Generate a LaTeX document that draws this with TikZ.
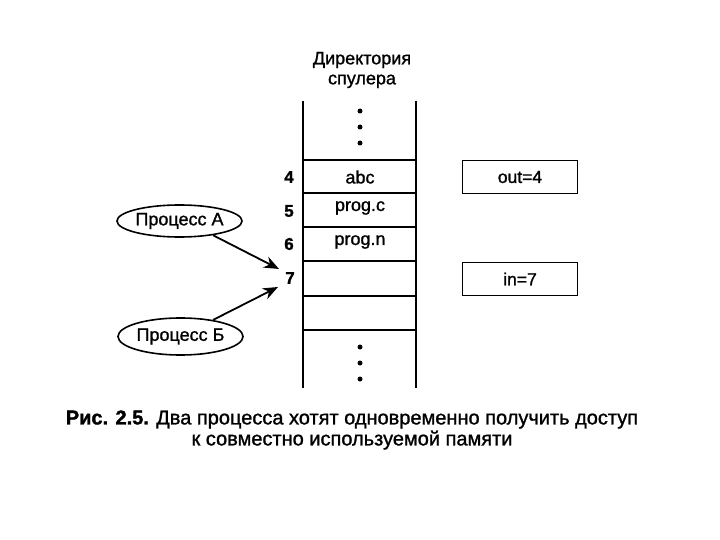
\documentclass[tikz,border=0pt]{standalone}
\usepackage{fontspec}
\setmainfont{Liberation Sans}[FakeBold=1.2]
\newfontfamily\capbold{Liberation Sans Bold}[FakeBold=1.5]
\usetikzlibrary{arrows.meta,shapes.geometric}
\tikzset{
  ln/.style={line width=1.8pt},
  cell/.style={font=\fontsize{18}{20}\selectfont},
  num/.style={font=\bfseries\fontsize{17}{18}\selectfont},
  proc/.style={ellipse,draw,line width=1.6pt,inner sep=0pt,font=\fontsize{18}{20}\selectfont},
  varbox/.style={draw,line width=1.8pt,minimum width=115pt,minimum height=33pt,font=\fontsize{17.5}{20}\selectfont},
  dotm/.style={circle,fill,inner sep=0pt,minimum size=5pt},
  arr/.style={line width=1.8pt,-{Stealth[length=15pt,width=12pt]}}
}
\begin{document}
\begin{tikzpicture}[x=1pt,y=-1pt]
\useasboundingbox (0,0) rectangle (720,540);
% column
\draw[ln] (303,101) -- (303,388);
\draw[ln] (416,101) -- (416,388);
\foreach \yy in {160,193,227,261,296,330} \draw[ln] (303,\yy) -- (416,\yy);
% title
\node[font=\fontsize{18}{20}\selectfont,align=center] (title) at (362,70) {Директория\\спулера};
% dots
\node[dotm] (d1) at (360,111) {};
\node[dotm] (d2) at (360,127) {};
\node[dotm] (d3) at (360,143) {};
\node[dotm] (d4) at (360,347) {};
\node[dotm] (d5) at (360,363) {};
\node[dotm] (d6) at (360,379) {};
% cell texts
\node[cell] (c4) at (360,177) {abc};
\node[cell] (c5) at (360,208) {prog.c};
\node[cell] (c6) at (360,242) {prog.n};
% numbers
\node[num] (n4) at (289,177) {4};
\node[num] (n5) at (289,211) {5};
\node[num] (n6) at (289,244) {6};
\node[num] (n7) at (290,278) {7};
\coordinate (t7a) at (279,269);
\coordinate (t7b) at (278,287);
% processes
\node[proc,minimum width=125pt,minimum height=32pt] (pa) at (179.5,221) {Процесс А};
\node[proc,minimum width=125pt,minimum height=37pt] (pb) at (180.5,336.5) {Процесс Б};
\draw[arr] (pa.-23) -- (t7a);
\draw[arr] (pb.27) -- (t7b);
% variables
\node[varbox] (out) at (520,177) {out=4};
\node[varbox] (in) at (520,279) {in=7};
% caption
\node[font=\fontsize{20}{21}\selectfont,align=center] (cap) at (352,430) {{\capbold Рис. 2.5.} Два процесса хотят одновременно получить доступ\\к совместно используемой памяти};
\end{tikzpicture}
\end{document}
